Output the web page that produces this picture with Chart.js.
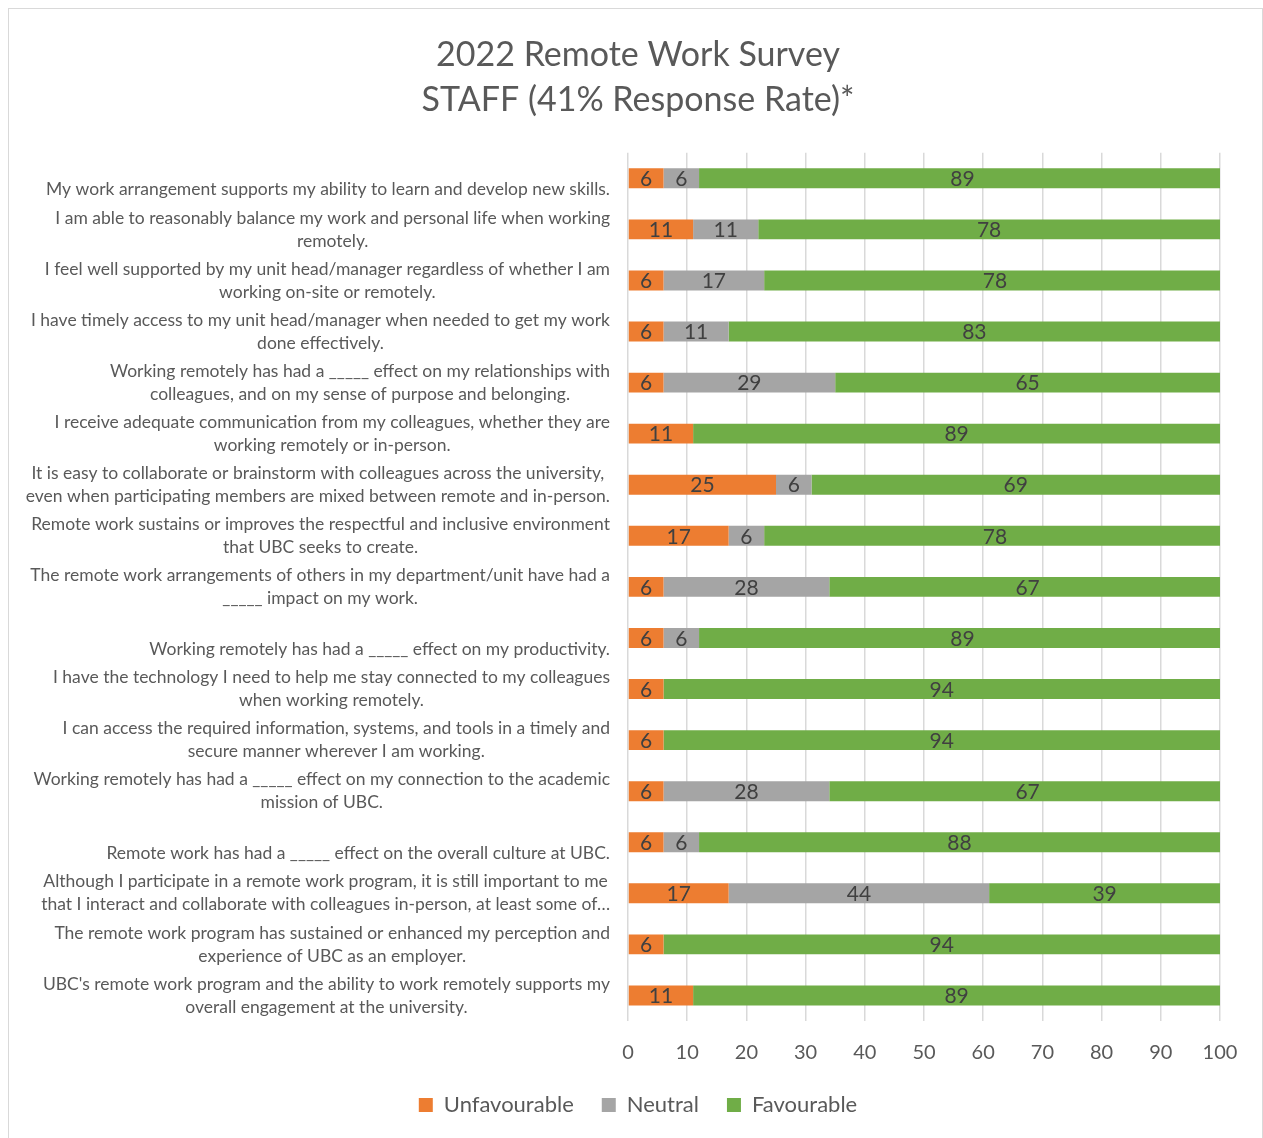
<!DOCTYPE html>
<html>
<head>
<meta charset="utf-8">
<script src="https://cdn.jsdelivr.net/npm/chart.js@4"></script>
<style>
  html, body { margin: 0; padding: 0; background: #fff; }
  #frame {
    position: absolute; left: 8px; top: 8px;
    width: 1253px; height: 1150px;
    border: 1px solid #d9d9d9;
  }
  #wrap { position: absolute; left: 0; top: 0; width: 1263px; height: 1138px; }
</style>
</head>
<body>
<div id="frame"></div>
<div id="wrap"><canvas id="survey"></canvas></div>
<script>
const questions = [
  ['', 'My work arrangement supports my ability to learn and develop new skills.'],
  ['I am able to reasonably balance my work and personal life when working', 'remotely.'],
  ['I feel well supported by my unit head/manager regardless of whether I am', 'working on-site or remotely.'],
  ['I have timely access to my unit head/manager when needed to get my work', 'done effectively.'],
  ['Working remotely has had a _____ effect on my relationships with', 'colleagues, and on my sense of purpose and belonging.'],
  ['I receive adequate communication from my colleagues, whether they are', 'working remotely or in-person.'],
  ['It is easy to collaborate or brainstorm with colleagues across the university,', 'even when participating members are mixed between remote and in-person.'],
  ['Remote work sustains or improves the respectful and inclusive environment', 'that UBC seeks to create.'],
  ['The remote work arrangements of others in my department/unit have had a', '_____ impact on my work.'],
  ['', 'Working remotely has had a _____ effect on my productivity.'],
  ['I have the technology I need to help me stay connected to my colleagues', 'when working remotely.'],
  ['I can access the required information, systems, and tools in a timely and', 'secure manner wherever I am working.'],
  ['Working remotely has had a _____ effect on my connection to the academic', 'mission of UBC.'],
  ['', 'Remote work has had a _____ effect on the overall culture at UBC.'],
  ['Although I participate in a remote work program, it is still important to me', 'that I interact and collaborate with colleagues in-person, at least some of\u2026'],
  ['The remote work program has sustained or enhanced my perception and', 'experience of UBC as an employer.'],
  ['UBC\'s remote work program and the ability to work remotely supports my', 'overall engagement at the university.']
];

const unfavourable = [6, 11, 6, 6, 6, 11, 25, 17, 6, 6, 6, 6, 6, 6, 17, 6, 11];
const neutral      = [6, 11, 17, 11, 29, 0, 6, 6, 28, 6, 0, 0, 28, 6, 44, 0, 0];
const favourable   = [89, 78, 78, 83, 65, 89, 69, 78, 67, 89, 94, 94, 67, 88, 39, 94, 89];

const xTicks = [0, 10, 20, 30, 40, 50, 60, 70, 80, 90, 100];

const FONT = 'Lato, "Open Sans", sans-serif';
const TEXT = '#595959';

// question text: each block right-aligned against the axis, lines centred inside the block
const questionLabels = {
  id: 'questionLabels',
  afterDraw(chart) {
    const { ctx, chartArea, scales: { y } } = chart;
    const right = chartArea.left - 18;
    const lineH = 23;
    ctx.save();
    ctx.font = '17.5px ' + FONT;
    ctx.fillStyle = TEXT;
    ctx.textAlign = 'center';
    ctx.textBaseline = 'middle';
    questions.forEach((lines, i) => {
      const cy = y.getPixelForTick(i);
      const blockW = Math.max(...lines.map(l => ctx.measureText(l).width));
      const cx = right - blockW / 2;
      lines.forEach((l, j) => {
        ctx.fillText(l, cx, cy + (j - (lines.length - 1) / 2) * lineH);
      });
    });
    ctx.restore();
  }
};

// value in the middle of every non-empty segment
const segmentValues = {
  id: 'segmentValues',
  afterDatasetsDraw(chart) {
    const { ctx } = chart;
    ctx.save();
    ctx.font = '21px ' + FONT;
    ctx.fillStyle = '#404040';
    ctx.textAlign = 'center';
    ctx.textBaseline = 'middle';
    chart.data.datasets.forEach((ds, di) => {
      chart.getDatasetMeta(di).data.forEach((bar, i) => {
        const v = ds.data[i];
        if (!v) return;
        ctx.fillText(String(v), (bar.x + bar.base) / 2, bar.y + 1);
      });
    });
    ctx.restore();
  }
};

new Chart(document.getElementById('survey'), {
  type: 'bar',
  data: {
    labels: questions,
    datasets: [
      { label: 'Unfavourable', data: unfavourable, backgroundColor: '#ed7d31' },
      { label: 'Neutral',      data: neutral,      backgroundColor: '#a5a5a5' },
      { label: 'Favourable',   data: favourable,   backgroundColor: '#70ad47' }
    ]
  },
  options: {
    indexAxis: 'y',
    responsive: true,
    maintainAspectRatio: false,
    animation: false,
    barPercentage: 0.39,
    categoryPercentage: 1,
    layout: { padding: { left: 56, right: 43, top: 0, bottom: 12 } },
    scales: {
      x: {
        stacked: true,
        min: 0,
        max: 100,
        afterBuildTicks(scale) { scale.ticks = xTicks.map(v => ({ value: v })); },
        afterFit(scale) { scale.height = 45; },
        grid: { color: '#d9d9d9', lineWidth: 1.5, drawTicks: false },
        border: { display: false },
        ticks: { color: TEXT, font: { family: FONT, size: 20 }, padding: 20 }
      },
      y: {
        stacked: true,
        grid: { display: false },
        border: { display: false },
        ticks: { display: false },
        afterFit(scale) { scale.width = 572; }
      }
    },
    plugins: {
      title: {
        display: true,
        text: ['2022 Remote Work Survey', 'STAFF (41% Response Rate)*'],
        color: TEXT,
        font: { family: FONT, size: 34, weight: 'normal', lineHeight: 1.32 },
        padding: { top: 33, bottom: 30 }
      },
      legend: {
        position: 'bottom',
        labels: {
          color: TEXT,
          font: { family: FONT, size: 22 },
          boxWidth: 14,
          boxHeight: 14,
          padding: 28
        }
      },
      tooltip: { enabled: false }
    }
  },
  plugins: [questionLabels, segmentValues]
});
</script>
</body>
</html>
